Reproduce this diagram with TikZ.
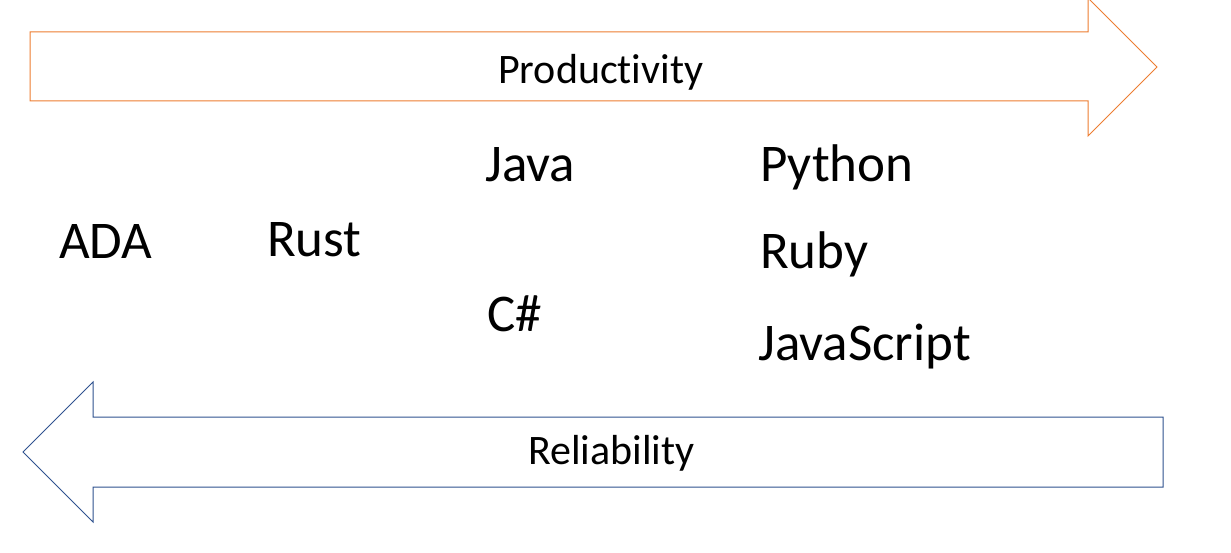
\documentclass[tikz,border=0pt]{standalone}
\usepackage{fontspec}
\setmainfont{Carlito}[Ligatures={NoCommon}]
\usepackage{xcolor}
\usetikzlibrary{positioning}

\definecolor{prodorange}{HTML}{ED7D31}
\definecolor{relblue}{HTML}{2F528F}

\begin{document}
\begin{tikzpicture}[
    x=1pt, y=-1pt,
    % Arrows
    prod_arrow/.style={draw=prodorange, line width=1pt, fill=white},
    rel_arrow/.style={draw=relblue, line width=1pt, fill=white},
    % Labels
    lang/.style={anchor=base west, inner sep=0pt, font=\fontsize{53}{60}\selectfont},
    arrow_text/.style={anchor=base west, inner sep=0pt, font=\fontsize{42}{48}\selectfont}
]
    \useasboundingbox (0,0) rectangle (1231,553);

    % --- PRODUCTIVITY ARROW ---
    \draw[prod_arrow] (30,32) -- (1088,32) -- (1088,-2) -- (1157,67)
        -- (1088,136) -- (1088,101) -- (30,101) -- cycle;
    \node[arrow_text] (prod) at (498,84) {Productivity};

    % --- RELIABILITY ARROW ---
    \draw[rel_arrow] (1163,417) -- (93,417) -- (93,382) -- (23,452)
        -- (93,522) -- (93,487) -- (1163,487) -- cycle;
    \node[arrow_text] (rel) at (528,464) {Reliability};

    % --- LANGUAGES ---
    \node[lang] (ada)    at (59,259)  {ADA};
    \node[lang] (rust)   at (267,257) {Rust};
    \node[lang] (java)   at (485,182) {Java};
    \node[lang] (csharp) at (487,331) {C\#};
    \node[lang] (python) at (760,182) {Python};
    \node[lang] (ruby)   at (760,269) {Ruby};
    \node[lang] (js)     at (758,360) {JavaScript};

\end{tikzpicture}
\end{document}
